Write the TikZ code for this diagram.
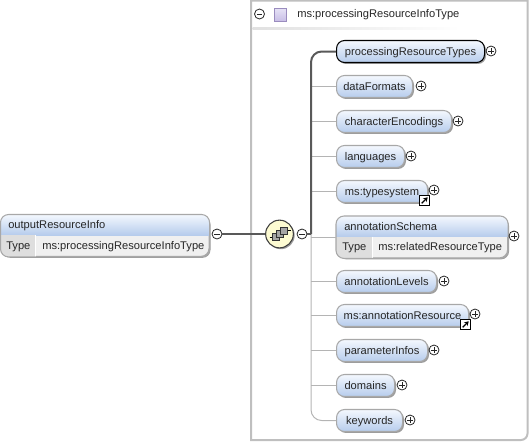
\documentclass[tikz,border=0pt]{standalone}
\usepackage{fontspec}
\setmainfont{Liberation Sans}
\usetikzlibrary{arrows.meta,calc,shadows}
\definecolor{elemtop}{HTML}{F4F8FE}
\definecolor{elembot}{HTML}{B6CCEC}
\definecolor{elemline}{HTML}{A8A8A8}
\definecolor{linkgray}{HTML}{B4B4B4}
\definecolor{seqfill}{HTML}{FDFBD2}
\definecolor{icontop}{HTML}{E6E2F6}
\definecolor{iconbot}{HTML}{C8BEE6}
\definecolor{iconline}{HTML}{9A8CBE}
\begin{document}
\begin{tikzpicture}[
  x=0.75pt, y=-0.75pt,
  font=\fontsize{8.35pt}{10pt}\selectfont,
  elem/.style={draw=elemline, line width=0.8pt, top color=elemtop, bottom color=elembot, rounded corners=6pt,
    minimum height=16.5pt, inner sep=0pt, anchor=west, text=black!85, text height=7.6pt, text depth=1.8pt,
    drop shadow={shadow xshift=1.1pt, shadow yshift=-1.1pt, fill=black!55, opacity=.7}},
  frame/.style={draw=elemline, line width=0.8pt, fill=black!6, rounded corners=6pt, inner sep=0pt,
    drop shadow={shadow xshift=1.1pt, shadow yshift=-1.1pt, fill=black!55, opacity=.7}},
  lbl/.style={inner sep=0pt, anchor=west, text=black!85, text height=7.6pt, text depth=1.8pt},
  toggle/.style={circle, draw=black!85, fill=white, line width=0.6pt, minimum size=7.5pt, inner sep=0pt},
  plus/.style={toggle, path picture={\draw[line width=0.5pt, black!85] ([xshift=-2pt]path picture bounding box.center) -- ([xshift=2pt]path picture bounding box.center)
    ([yshift=-2pt]path picture bounding box.center) -- ([yshift=2pt]path picture bounding box.center);}},
  minus/.style={toggle, path picture={\draw[line width=0.5pt, black!85] ([xshift=-2pt]path picture bounding box.center) -- ([xshift=2pt]path picture bounding box.center);}},
  link/.style={draw=linkgray, line width=0.75pt},
  boldlink/.style={draw=black!65, line width=1.5pt},
  cube/.style={draw=black!80, fill=black!35, line width=0.45pt, minimum size=5.4pt, inner sep=0pt},
  shortcut/.style={draw=black, fill=white, line width=0.8pt, minimum size=7.8pt, inner sep=0pt},
]
\useasboundingbox (0,0) rectangle (530,443);
% type box on the right
\node[minimum width=207pt, minimum height=329.25pt, inner sep=0pt, anchor=north west] (typebox) at (251,0.5) {};
\draw[draw=black!25, line width=1.5pt] (typebox.north west) -- (typebox.north east)
  [rounded corners=5pt] -- (typebox.south east) [sharp corners] -- (typebox.south west) -- cycle;
\shade[left color=black!12, right color=white] (252.5,27.5) rectangle (460,29.5);
\node[minus] (typeminus) at (259.5,14) {};
\node[draw=iconline, line width=0.7pt, top color=icontop, bottom color=iconbot, minimum size=9.6pt, inner sep=0pt] (typeicon) at (280.5,14.75) {};
\node[lbl] (typename) at (297,14) {ms:processingResourceInfoType};
% elements
\foreach \n/\t/\r/\y in {formats/dataFormats/412/86.5,
    encodings/characterEncodings/451/121.5, languages/languages/404/156.5, typesystem/ms:typesystem/427/191.5,
    levels/annotationLevels/436/281.5, resource/ms:annotationResource/468/315.5,
    infos/parameterInfos/427/350.5, domains/domains/394/385.5, keywords/keywords/402/420.5} {
  \pgfmathsetmacro{\w}{(\r-336)*0.75}
  \node[elem, minimum width=\w pt] (\n) at (336,\y) {\t};
}
\node[elem, draw=black, minimum width=111pt] (types) at (336,51.5) {processingResourceTypes};
% elements with a type row
\node[frame, minimum width=156pt, minimum height=31pt, anchor=north west] (output) at (0.5,214.5) {};
\node[frame, minimum width=128.3pt, minimum height=31pt, anchor=north west] (schema) at (336,216) {};
\foreach \b/\d/\c in {output/235/35, schema/236.5/372} {
  \begin{scope}
    \path[clip, rounded corners=6pt] (\b.north west) rectangle (\b.south east);
    \shade[top color=elemtop, bottom color=elembot] (\b.north west) rectangle (\b.east |- 0,\d);
    \fill[black!13] (\b.west |- 0,\d) rectangle (\c,300);
    \draw[white, line width=0.6pt] (\c,\d) -- (\c,300);
  \end{scope}
  \draw[draw=elemline, line width=0.8pt, rounded corners=6pt] (\b.north west) rectangle (\b.south east);
}
\node[lbl] (outputname) at (8,225) {outputResourceInfo};
\node[lbl] (outputkey) at (6,245.5) {Type};
\node[lbl] (outputtype) at (42,245.5) {ms:processingResourceInfoType};
\node[lbl] (schemaname) at (344,226.5) {annotationSchema};
\node[lbl] (schemakey) at (342,246.5) {Type};
\node[lbl] (schematype) at (378,246.5) {ms:relatedResourceType};
% sequence with its toggles
\node[minus] (outputminus) at (217,234) {};
\node[circle, draw=black!75, fill=seqfill, line width=0.8pt, minimum size=20.8pt, inner sep=0pt,
  drop shadow={shadow xshift=1pt, shadow yshift=-1pt, fill=black!55, opacity=.7}] (seq) at (279.5,234) {};
\node[minus] (seqminus) at (302,234) {};
\node[cube] (cubea) at (276,237) {};
\node[cube] (cubeb) at (280,234) {};
\node[cube] (cubec) at (284,230.5) {};
\draw[line width=0.7pt, black] (269.5,237) -- (cubea.west) (cubec.east) -- (290.5,230.5);
\coordinate (trunk) at (311,234);
% connectors
\draw[link, rounded corners=8pt] (trunk) |- (keywords.west);
\foreach \n in {formats,encodings,languages,typesystem,schema,levels,resource,infos,domains}
  \draw[link] (trunk |- \n.west) -- (\n.west);
\draw[boldlink] (outputminus.east) -- (seq.west);
\draw[boldlink] (seqminus.east) -- (trunk);
\draw[boldlink, rounded corners=8pt] (trunk) |- (types.west);
% plus toggles
\foreach \p/\x/\y in {typesplus/491/51, formatsplus/421/86, encodingsplus/458/121, languagesplus/411/156,
    typesystemplus/434/190, schemaplus/514/236, levelsplus/444/281, resourceplus/475/314,
    infosplus/434/350, domainsplus/402/385, keywordsplus/410/420}
  \node[plus] (\p) at (\x,\y) {};
% shortcut marks
\foreach \s/\x/\y in {typesystemmark/424.5/200.5, resourcemark/465.5/324.5} {
  \node[shortcut] (\s) at (\x,\y) {};
  \draw[-{Stealth[length=3.2pt,width=3.8pt]}, line width=1pt] ($(\s.center)+(-2.8,2.8)$) -- ($(\s.center)+(3.2,-3.2)$);
}
\end{tikzpicture}
\end{document}
